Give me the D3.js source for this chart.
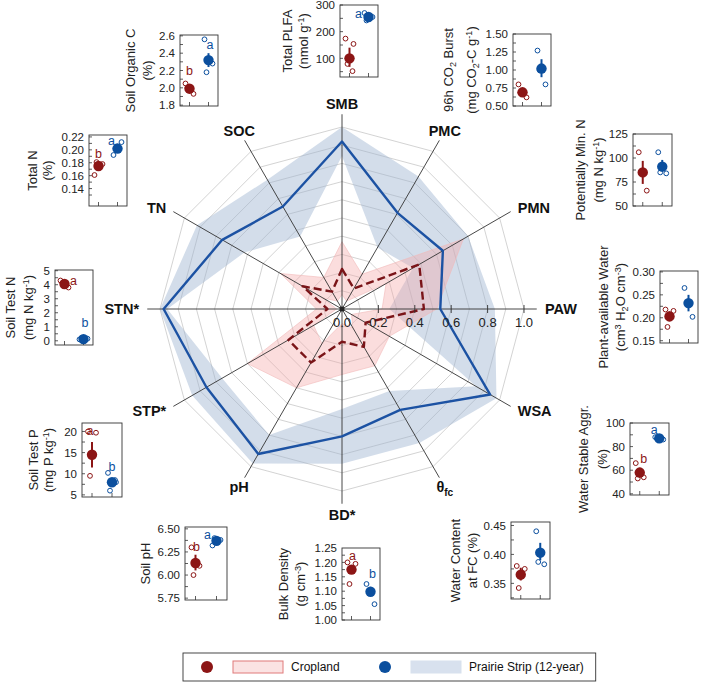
<!DOCTYPE html>
<html>
<head>
<meta charset="utf-8">
<script src="https://cdn.jsdelivr.net/npm/d3@7"></script>
<style>
body { margin: 0; background: #fff; }
svg { font-family: Arial, "Liberation Sans", sans-serif; }
</style>
</head>
<body>
<svg id="chart" width="720" height="687"></svg>
<script>
// ---- radar data (relative scale 0..1) ----
const axisNames = ["SMB", "PMC", "PMN", "PAW", "WSA", "θ_{fc}", "BD*", "pH", "STP*", "STN*", "TN", "SOC"];
const cropMean = [0.22, 0.13, 0.49, 0.45, 0.15, 0.24, 0.18, 0.34, 0.34, 0.08, 0.25, 0.11];
const cropLo = [0.08, 0.05, 0.28, 0.22, 0.06, 0.12, 0.08, 0.22, 0.18, 0.03, 0.12, 0.05];
const cropHi = [0.37, 0.22, 0.77, 0.52, 0.30, 0.36, 0.36, 0.50, 0.60, 0.14, 0.39, 0.20];
const prairieMean = [0.92, 0.61, 0.64, 0.54, 0.94, 0.64, 0.70, 0.92, 0.86, 0.98, 0.76, 0.65];
const prairieLo = [0.84, 0.39, 0.45, 0.26, 0.85, 0.52, 0.55, 0.80, 0.76, 0.96, 0.62, 0.46];
const prairieHi = [1.00, 0.84, 0.80, 0.84, 0.98, 0.85, 0.85, 0.98, 0.95, 1.00, 0.92, 0.82];
const ringLevels = [0.1, 0.2, 0.3, 0.4, 0.5, 0.6, 0.7, 0.8, 0.9, 1.0];
const radarTicks = [0, 0.2, 0.4, 0.6, 0.8, 1.0];

// ---- small panels, same order as the radar axes ----
const panelLabel = [
  ["Total PLFA", "(nmol g^{-1})"],
  ["96h CO_{2} Burst", "(mg CO_{2}-C g^{-1})"],
  ["Potentially Min. N", "(mg N kg^{-1})"],
  ["Plant-available Water", "(cm^{3} H_{2}O cm^{-3})"],
  ["Water Stable Aggr.", "(%)"],
  ["Water Content", "at FC (%)"],
  ["Bulk Density", "(g cm^{-3})"],
  ["Soil pH"],
  ["Soil Test P", "(mg P kg^{-1})"],
  ["Soil Test N", "(mg N kg^{-1})"],
  ["Total N", "(%)"],
  ["Soil Organic C", "(%)"]
];
const panelDomain = [[30, 300], [0.5, 1.5], [50, 125], [0.145, 0.302], [39, 100], [0.323, 0.456],
  [1.0, 1.25], [5.73, 6.52], [4.5, 22], [-0.3, 5.05], [0.113, 0.223], [1.79, 2.61]];
const panelTicks = [[100, 200, 300], [0.5, 0.75, 1.0, 1.25, 1.5], [50, 75, 100, 125], [0.15, 0.2, 0.25, 0.3],
  [40, 60, 80, 100], [0.35, 0.4, 0.45], [1.0, 1.05, 1.1, 1.15, 1.2, 1.25], [5.75, 6.0, 6.25, 6.5],
  [5, 10, 15, 20], [0, 1, 2, 3, 4, 5], [0.14, 0.16, 0.18, 0.2, 0.22], [1.8, 2.0, 2.2, 2.4, 2.6]];
const panelTickFormat = ["d", ".2f", "d", ".2f", "d", ".2f", ".2f", ".2f", "d", "d", ".2f", ".1f"];

const cropPanelMean = [100, 0.69, 85, 0.203, 58, 0.365, 1.175, 6.13, 14.5, 4.05, 0.175, 1.99];
const cropPanelErr = [[68, 140], [0.65, 0.73], [73, 97], [0.192, 0.214], [54, 62], [0.355, 0.377],
  [1.16, 1.19], [6.05, 6.22], [11.5, 17.5], [3.9, 4.2], [0.168, 0.181], [1.96, 2.02]];
const cropPanelPts = [[174, 154, 79, 52], [0.80, 0.62, 0.68], [106, 66], [0.218, 0.215, 0.18], [66, 54, 53],
  [0.38, 0.375, 0.342], [1.2, 1.195, 1.125], [6.3, 6.1, 6.0], [20, 19.7, 9.5], [4.3, 3.8, 4.1],
  [0.161, 0.178, 0.181], [2.05, 1.93, 2.0]];
const prairiePanelMean = [255, 1.02, 91, 0.232, 87, 0.403, 1.098, 6.37, 8, 0.12, 0.202, 2.32];
const prairiePanelErr = [[247, 265], [0.90, 1.15], [86, 98], [0.214, 0.25], [85, 89], [0.39, 0.42],
  [1.085, 1.115], [6.34, 6.4], [7, 9], [0.05, 0.2], [0.196, 0.208], [2.24, 2.4]];
const prairiePanelPts = [[270, 255, 242], [1.27, 0.80, 1.0], [106, 84, 85], [0.265, 0.202], [88, 86],
  [0.44, 0.383, 0.387], [1.125, 1.055], [6.32, 6.38, 6.4], [10.2, 8, 6, 8.5], [0.1, 0.15, 0.2],
  [0.192, 0.212], [2.56, 2.28, 2.18]];
const cropLetter = ["", "", "", "", "b", "", "a", "b", "a", "a", "b", "b"];
const prairieLetter = ["a", "", "", "", "a", "", "b", "a", "b", "b", "a", "a"];

const legendItems = ["Cropland", "Prairie Strip (12-year)"];

// ---- layout ----
const cx = 342, cy = 309, R = 182;
// frame left, top, width, height, label line offsets from frame left
const panelBox = [
  [340, 5, 38, 72, -53, -37], [513, 34, 38, 72, -65, -42], [633, 134, 39, 72, -53, -35],
  [660, 271, 38, 72, -57, -40], [630, 423, 39, 72, -47, -28], [511, 522, 39, 77, -56, -39],
  [342, 548, 38, 72, -59, -42], [185, 527, 42, 73, -40], [82, 423, 40, 74, -49, -34],
  [55, 270, 38, 75, -45, -27], [89, 135, 38, 71, -57, -42], [180, 35, 38, 71, -50, -33]
];
// letter placement: [x offset from group, level in data units]
const cropLetterPos = [null, null, null, null, [4, 70], null, [1, 1.225], [1, 6.31], [-2, 20.3], [9, 4.3], [0, 0.194], [0, 2.2]];
const prairieLetterPos = [[-10, 268], null, null, null, [-5, 94], null, [2, 1.16], [-9, 6.44], [0, 11.6], [1.5, 1.3], [-6, 0.2137], [1.5, 2.5]];
const redDark = "#8c1515", blueDark = "#0b4f9e";
const jitter = [-4, 4, -2, 3];

const svg = d3.select("#chart");

// rich text: ^{..} superscript, _{..} subscript
function richText(sel, str, small) {
  const parts = str.split(/(\^\{[^}]*\}|_\{[^}]*\})/).filter(s => s.length);
  let shift = 0;
  parts.forEach(p => {
    const t = sel.append("tspan");
    let dy = 0, txt = p;
    if (p.startsWith("^{")) { txt = p.slice(2, -1); dy = -small - shift; shift = -small; t.attr("font-size", "0.7em"); }
    else if (p.startsWith("_{")) { txt = p.slice(2, -1); dy = small * 0.8 - shift; shift = small * 0.8; t.attr("font-size", "0.7em"); }
    else { dy = -shift; shift = 0; }
    if (dy) t.attr("dy", dy);
    t.text(txt);
  });
}

// ---- radar ----
const rScale = d3.scaleLinear().domain([0, 1]).range([0, R]);
const step = 2 * Math.PI / axisNames.length;
const radar = svg.append("g").attr("transform", `translate(${cx},${cy})`);

const ringLine = d3.lineRadial().angle((d, i) => i * step).radius(d => d).curve(d3.curveLinearClosed);
radar.selectAll(".ring").data(ringLevels).join("path")
  .attr("d", lv => ringLine(axisNames.map(() => rScale(lv))))
  .attr("fill", "none").attr("stroke", "#c8c8c8").attr("stroke-width", 0.8);

const band = d3.areaRadial().angle((d, i) => i * step)
  .innerRadius(d => rScale(d[0])).outerRadius(d => rScale(d[1])).curve(d3.curveLinearClosed);

radar.append("path").datum(prairieLo.map((v, i) => [v, prairieHi[i]]))
  .attr("d", band).attr("fill", "#9db3d1").attr("fill-opacity", 0.45).attr("fill-rule", "evenodd");
radar.append("path").datum(cropLo.map((v, i) => [v, cropHi[i]]))
  .attr("d", band).attr("fill", "#f4a6a6").attr("fill-opacity", 0.38).attr("fill-rule", "evenodd")
  .attr("stroke", "#f2b8b8").attr("stroke-width", 0.6);

// axis spokes
radar.selectAll(".spoke").data(axisNames).join("line")
  .attr("x1", 0).attr("y1", 0)
  .attr("x2", (d, i) => Math.sin(i * step) * rScale(1.07))
  .attr("y2", (d, i) => -Math.cos(i * step) * rScale(1.07))
  .attr("stroke", "#333").attr("stroke-width", 0.9);

const meanLine = d3.lineRadial().angle((d, i) => i * step).radius(d => rScale(d)).curve(d3.curveLinearClosed);
radar.append("path").datum(prairieMean).attr("d", meanLine)
  .attr("fill", "none").attr("stroke", "#1c52a3").attr("stroke-width", 2.4).attr("stroke-linejoin", "round");
radar.append("path").datum(cropMean).attr("d", meanLine)
  .attr("fill", "none").attr("stroke", "#7a1418").attr("stroke-width", 2.4)
  .attr("stroke-dasharray", "8,4").attr("stroke-linejoin", "round");

radar.append("circle").attr("r", 2.5).attr("fill", "#222");

// radial tick marks and labels on the PAW axis
const tickG = radar.append("g");
tickG.selectAll("line").data(radarTicks.slice(1)).join("line")
  .attr("x1", d => rScale(d)).attr("x2", d => rScale(d)).attr("y1", -4).attr("y2", 4)
  .attr("stroke", "#333").attr("stroke-width", 0.9);
tickG.selectAll("text").data(radarTicks).join("text")
  .attr("x", d => rScale(d)).attr("y", 9).attr("dy", "0.71em")
  .attr("text-anchor", "middle").attr("font-size", 13).attr("fill", "#222")
  .text(d3.format(".1f"));

// axis labels
axisNames.forEach((name, i) => {
  const a = i * step, s = Math.sin(a), c = Math.cos(a);
  const side = Math.abs(s) > 0.8;
  const rr = side ? rScale(1.115) : rScale(1.13);
  const t = radar.append("text")
    .attr("x", s * rr).attr("y", -c * rr)
    .attr("dy", "0.36em")
    .attr("text-anchor", side ? (s > 0 ? "start" : "end") : "middle")
    .attr("font-size", 14.5).attr("font-weight", "bold").attr("fill", "#111");
  richText(t, name, 5);
});

// ---- small panels ----
const groups = ["Cropland", "Prairie"];
panelBox.forEach((b, k) => {
  const [x0, y0, w, h] = b;
  const g = svg.append("g").attr("transform", `translate(${x0},${y0})`);
  const y = d3.scaleLinear().domain(panelDomain[k]).range([h, 0]);
  const x = d3.scalePoint().domain(groups).range([0, w]).padding(0.5);

  // minor ticks
  const tk = panelTicks[k];
  const half = (tk[1] - tk[0]) / 2;
  const minor = d3.range(tk[0] - half, tk[tk.length - 1] + half / 2, half)
    .filter(v => v >= panelDomain[k][0] && v <= panelDomain[k][1]);
  g.selectAll(".minor").data(minor).join("line")
    .attr("x1", 0).attr("x2", 3).attr("y1", d => y(d)).attr("y2", d => y(d))
    .attr("stroke", "#333").attr("stroke-width", 0.8);

  const ax = g.append("g").call(d3.axisLeft(y).tickValues(tk)
    .tickFormat(d3.format(panelTickFormat[k])).tickSizeInner(0).tickSizeOuter(0).tickPadding(5));
  ax.select(".domain").remove();
  ax.selectAll("text").attr("font-size", 11.5).attr("fill", "#222").attr("font-family", "Arial, 'Liberation Sans', sans-serif");

  g.selectAll(".xt").data(groups).join("line")
    .attr("x1", d => x(d)).attr("x2", d => x(d)).attr("y1", h).attr("y2", h - 4)
    .attr("stroke", "#333").attr("stroke-width", 0.8);

  g.append("rect").attr("width", w).attr("height", h)
    .attr("fill", "none").attr("stroke", "#333").attr("stroke-width", 0.9);

  const series = [
    { grp: "Cropland", col: redDark, mean: cropPanelMean[k], err: cropPanelErr[k], pts: cropPanelPts[k], let: cropLetter[k], pos: cropLetterPos[k] },
    { grp: "Prairie", col: blueDark, mean: prairiePanelMean[k], err: prairiePanelErr[k], pts: prairiePanelPts[k], let: prairieLetter[k], pos: prairieLetterPos[k] }
  ];
  series.forEach(sr => {
    const gx = x(sr.grp);
    g.selectAll(null).data(sr.pts).join("circle")
      .attr("cx", (d, i) => gx + jitter[i % jitter.length]).attr("cy", d => y(d)).attr("r", 2.4)
      .attr("fill", "#fff").attr("stroke", sr.col).attr("stroke-width", 1);
    g.append("line").attr("x1", gx).attr("x2", gx).attr("y1", y(sr.err[0])).attr("y2", y(sr.err[1]))
      .attr("stroke", sr.col).attr("stroke-width", 2);
    g.append("circle").attr("cx", gx).attr("cy", y(sr.mean)).attr("r", 5.2).attr("fill", sr.col);
    if (sr.let && sr.pos) {
      g.append("text").attr("x", gx + sr.pos[0]).attr("y", y(sr.pos[1])).attr("dy", "0.35em")
        .attr("text-anchor", "middle").attr("font-size", 12.5).attr("fill", sr.col).text(sr.let);
    }
  });

  // y label lines
  panelLabel[k].forEach((ln, j) => {
    const t = svg.append("text")
      .attr("transform", `translate(${x0 + b[4 + j]},${y0 + h / 2}) rotate(-90)`)
      .attr("text-anchor", "middle").attr("dy", "0.36em")
      .attr("font-size", 13).attr("fill", "#222");
    richText(t, ln, 4);
  });
});

// ---- legend ----
const lg = svg.append("g").attr("transform", "translate(183,653)");
const legBox = lg.append("rect").attr("height", 28).attr("fill", "#fff").attr("stroke", "#333").attr("stroke-width", 0.9);
const legCol = [[redDark, "#fbe3e3", "#e07a7a"], [blueDark, "#d8e1ee", "#d8e1ee"]];
let legEnd = 0;
legendItems.forEach((name, i) => {
  const ox = 24 + i * 178;
  lg.append("circle").attr("cx", ox).attr("cy", 14).attr("r", 6).attr("fill", legCol[i][0]);
  lg.append("rect").attr("x", ox + 26).attr("y", 8).attr("width", 50).attr("height", 12)
    .attr("fill", legCol[i][1]).attr("stroke", legCol[i][2]).attr("stroke-width", 1);
  const t = lg.append("text").attr("x", ox + 84).attr("y", 14).attr("dy", "0.36em")
    .attr("font-size", 12).attr("fill", "#111").text(name);
  legEnd = ox + 84 + t.node().getComputedTextLength();
});
legBox.attr("width", legEnd + 12);
</script>
</body>
</html>
